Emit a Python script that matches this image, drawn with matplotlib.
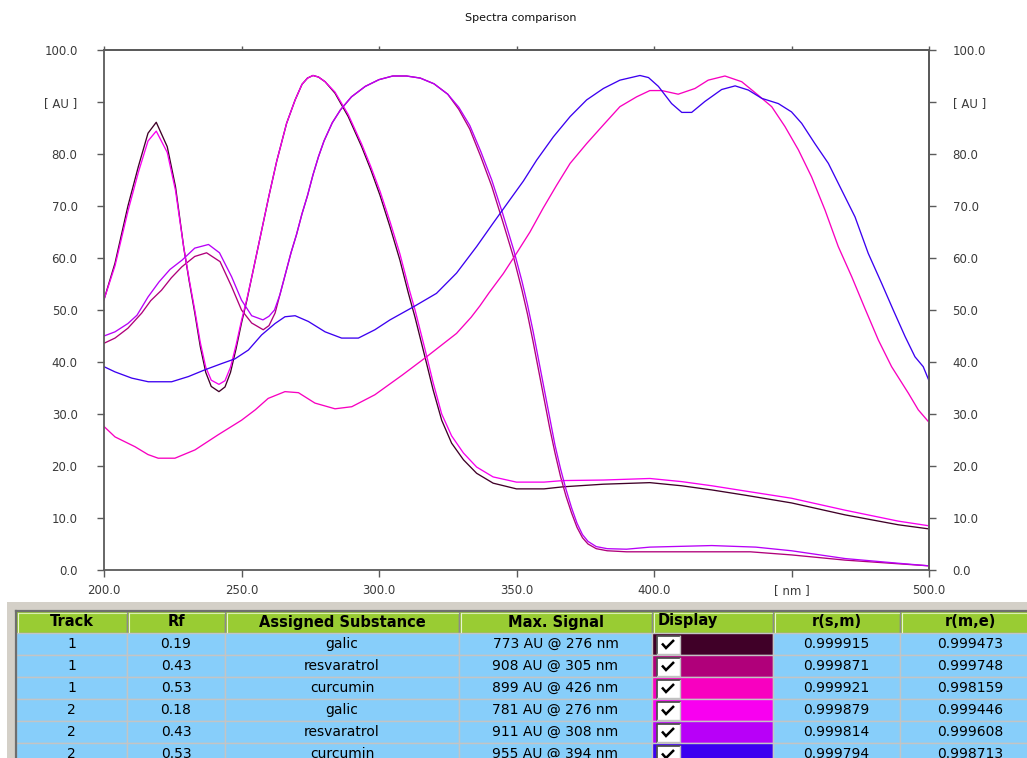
import matplotlib
matplotlib.use("Agg")
import matplotlib.pyplot as plt
from matplotlib.patches import Rectangle

# ---------------------------------------------------------------- spectra
# wavelength [nm] and normalised signal [AU] for each track / substance
galic_t1_nm = [200, 204, 208.7, 212.5, 216, 219, 223, 226, 229, 231,
               233, 235, 237, 239, 241.8, 244, 246, 248, 250, 252,
               254, 256, 258, 260, 262.8, 266.4, 269.5, 272, 274, 276,
               278, 280.4, 284, 288.8, 293.7, 297, 300.4, 304, 307.6, 310.7,
               313.1, 316.7, 319.7, 322.8, 326.4, 330.7, 335.5, 341.5, 350, 360,
               367, 381.6, 398.5, 410, 421, 433, 450, 469.5, 488.8, 500]
galic_t1_au = [52, 59, 70, 77.6, 84, 86.1, 81.4, 73.7, 62, 55.5,
               49.5, 43, 38, 35.3, 34.3, 35.2, 38, 42.5, 47.5, 52,
               57, 62, 67, 72, 78.6, 85.9, 90.4, 93.4, 94.6, 95.1,
               94.8, 93.9, 91.7, 87.2, 81.4, 77, 72, 66, 59.6, 53.2,
               48.6, 41, 34.6, 28.8, 24.4, 21.2, 18.6, 16.7, 15.6, 15.6,
               16, 16.5, 16.8, 16.2, 15.4, 14.4, 12.9, 10.6, 8.7, 7.9]

galic_t2_nm = galic_t1_nm
galic_t2_au = [52, 58.5, 69, 76.5, 82.5, 84.4, 80.3, 73, 62, 55.8,
               50, 43.8, 39, 36.5, 35.7, 36.4, 39, 43.2, 48, 52.2,
               57, 62, 67, 72, 78.6, 85.9, 90.4, 93.4, 94.6, 95.1,
               94.8, 93.9, 91.9, 87.6, 81.9, 77.6, 72.8, 67, 60.8, 54.5,
               50, 42.5, 36, 30, 25.8, 22.5, 19.8, 17.9, 16.9, 16.9,
               17.2, 17.3, 17.6, 17, 16.2, 15.2, 13.8, 11.5, 9.4, 8.5]

resv_t1_nm = [200, 204, 208.7, 213.7, 217, 220.9, 224.5, 228.3, 233, 237.3,
              242.2, 246.4, 250, 253.7, 257.9, 260, 262.2, 264, 266, 268,
              270, 272, 274, 276, 278, 280, 283, 286, 290, 295,
              300, 305, 310, 315, 320, 325, 329, 333, 337, 341,
              345, 349, 352, 354, 356, 358, 360, 362, 364, 366,
              368, 370, 372, 374, 376, 379, 383, 390, 398.5, 435,
              450, 469.5, 488.8, 500]
resv_t1_au = [43.6, 44.6, 46.5, 49.4, 51.8, 53.8, 56.2, 58.3, 60.3, 61,
              59.3, 54.5, 50, 47.5, 46.2, 47, 49.4, 53, 57, 61,
              64.5, 68.5, 72, 76, 79.5, 82.5, 86, 88.5, 91, 93,
              94.3, 95, 95, 94.6, 93.5, 91.5, 88.6, 84.8, 79.5, 73.8,
              67, 60, 53.8, 49.2, 44, 38.5, 33, 27.5, 22.5, 18,
              14.2, 11, 8.2, 6.2, 5, 4.1, 3.7, 3.5, 3.5, 3.5,
              2.9, 1.9, 1.2, 0.8]

resv_t2_nm = [200, 204, 208.7, 212, 216, 220, 224, 228.4, 233, 238,
              242, 246.4, 250, 253.7, 257.8, 260, 262, 264, 266, 268,
              270, 272, 274, 276, 278, 280, 283, 286, 290, 295,
              300, 305, 310, 315, 320, 325, 329, 333, 337, 341,
              345, 349, 352, 354, 356, 358, 360, 362, 364, 366,
              368, 370, 372, 374, 376, 379, 383, 390, 398.5, 421,
              437, 450, 469.5, 488.8, 500]
resv_t2_au = [45, 45.8, 47.4, 49, 52.5, 55.4, 57.8, 59.6, 61.9, 62.6,
              61, 56.4, 51.9, 48.9, 48.1, 48.8, 50, 53, 57, 61,
              64.5, 68.5, 72, 76, 79.5, 82.5, 86, 88.5, 91, 93,
              94.3, 95, 95, 94.6, 93.5, 91.5, 89, 85.5, 80.5, 75,
              68.5, 61.5, 55.5, 51, 46, 40.5, 35, 29.5, 24, 19.5,
              15.5, 12, 9, 6.8, 5.5, 4.5, 4.1, 4.0, 4.4, 4.7,
              4.4, 3.7, 2.2, 1.3, 0.8]

curc_t1_nm = [200, 204, 211.3, 216, 219.7, 225.8, 233.1, 241.5, 250, 255,
              259.7, 265.8, 270.7, 276.7, 284, 290.1, 298.5, 308.5, 317.3, 328.2,
              333.5, 336.7, 340, 345.2, 350, 354.9, 359.7, 364.6, 369.5, 375.5,
              381.6, 387.6, 393.7, 398.5, 402.8, 408.8, 414.9, 419.7, 425.8, 431.9,
              437.9, 442.8, 447.6, 452.5, 457.3, 462.2, 467, 471.9, 476.7, 481.6,
              486.4, 492.5, 496.1, 500]
curc_t1_au = [27.6, 25.6, 23.7, 22.2, 21.5, 21.5, 23.1, 26, 28.8, 30.8,
              33, 34.3, 34.1, 32.1, 31, 31.4, 33.7, 37.5, 41, 45.5,
              48.6, 50.8, 53.3, 57, 60.9, 65, 69.6, 74, 78.2, 82,
              85.6, 89.1, 91, 92.2, 92.2, 91.5, 92.6, 94.2, 95, 93.9,
              91.3, 89.1, 85.3, 80.8, 75.6, 69.2, 62.2, 56.4, 50.3, 44.2,
              39.1, 34, 30.8, 28.4]

curc_t2_nm = [200, 204, 210.1, 216.1, 224.6, 230.7, 236.7, 242.8, 247.6, 252.5,
              257.3, 262.2, 265.8, 269.5, 274.3, 280.4, 286.4, 292.5, 298.5, 304,
              312.5, 320.9, 328.2, 335.5, 341.5, 347.6, 352.5, 357.3, 363.4, 369.5,
              375.5, 381.6, 387.6, 394.9, 398, 401.6, 406.4, 410.1, 413.7, 418.5,
              424.6, 429.5, 434.3, 439.2, 445.2, 450, 453.7, 458.5, 463.4, 468.2,
              473.1, 477.9, 482.8, 487, 491.3, 494.9, 497.9, 500]
curc_t2_au = [39.1, 38.1, 36.9, 36.2, 36.2, 37.2, 38.5, 39.7, 40.6, 42.3,
              45.2, 47.4, 48.7, 48.9, 47.8, 45.8, 44.6, 44.6, 46.2, 48.1,
              50.6, 53.2, 57.1, 62.2, 66.7, 71.2, 74.8, 78.8, 83.3, 87.2,
              90.4, 92.6, 94.2, 95.1, 94.7, 93, 89.7, 88, 88, 90.1,
              92.4, 93.1, 92.3, 90.7, 89.7, 88.1, 85.9, 82, 78.2, 73.1,
              67.9, 60.9, 55.1, 50, 44.9, 41, 39.1, 36.4]

# ---------------------------------------------------------------- table
tracks = ["1", "1", "1", "2", "2", "2"]
rf_values = ["0.19", "0.43", "0.53", "0.18", "0.43", "0.53"]
substances = ["galic", "resvaratrol", "curcumin", "galic", "resvaratrol", "curcumin"]
max_signals = ["773 AU @ 276 nm", "908 AU @ 305 nm", "899 AU @ 426 nm",
               "781 AU @ 276 nm", "911 AU @ 308 nm", "955 AU @ 394 nm"]
r_sm = ["0.999915", "0.999871", "0.999921", "0.999879", "0.999814", "0.999794"]
r_me = ["0.999473", "0.999748", "0.998159", "0.999446", "0.999608", "0.998713"]
track_colors = ["#400028", "#b0007a", "#f800c0", "#f800f0", "#b800f8", "#3c00f0"]
headers = ["Track", "Rf", "Assigned Substance", "Max. Signal", "Display", "r(s,m)", "r(m,e)"]

x_ticks = [200, 250, 300, 350, 400, 450, 500]
x_labels = ["200.0", "250.0", "300.0", "350.0", "400.0", "[ nm ]", "500.0"]
y_ticks = [0, 10, 20, 30, 40, 50, 60, 70, 80, 90, 100]
y_labels = ["0.0", "10.0", "20.0", "30.0", "40.0", "50.0", "60.0", "70.0", "80.0", "[ AU ]", "100.0"]

# ---------------------------------------------------------------- figure
W, H = 1027, 758
plt.rcParams["font.family"] = ["DejaVu Sans"]
fig = plt.figure(figsize=(W / 100, H / 100), dpi=100)
fig.patch.set_facecolor("white")

ax = fig.add_axes([104 / W, 1 - 570 / H, 825 / W, 520 / H])
series = [
    (galic_t1_nm, galic_t1_au), (resv_t1_nm, resv_t1_au), (curc_t1_nm, curc_t1_au),
    (galic_t2_nm, galic_t2_au), (resv_t2_nm, resv_t2_au), (curc_t2_nm, curc_t2_au),
]
for (xs, ys), col in zip(series, track_colors):
    ax.plot(xs, ys, color=col, lw=0.95, solid_joinstyle="round")

spine_col = "#5a5a5a"
ax.set_xlim(200, 500)
ax.set_ylim(0, 100)
ax.set_xticks(x_ticks)
ax.set_xticklabels(x_labels)
ax.set_yticks(y_ticks)
ax.set_yticklabels(y_labels)
for sp in ax.spines.values():
    sp.set_color(spine_col)
    sp.set_linewidth(1.3)
ax.tick_params(axis="x", direction="out", length=5, width=1, color=spine_col,
               labelsize=8.5, labelcolor="#3a3a3a", pad=5)
ax.tick_params(axis="y", direction="out", length=5, width=1, color=spine_col,
               labelsize=8.5, labelcolor="#3a3a3a", pad=14)

# right-hand signal axis and top wavelength ticks
ax_r = ax.secondary_yaxis("right")
ax_r.set_yticks(y_ticks)
ax_r.set_yticklabels(y_labels)
ax_r.tick_params(direction="out", length=5, width=1, color=spine_col,
                 labelsize=8.5, labelcolor="#3a3a3a", pad=12)
ax_r.spines["right"].set_color(spine_col)
ax_r.spines["right"].set_linewidth(1.3)

ax_t = ax.secondary_xaxis("top")
ax_t.set_xticks(x_ticks)
ax_t.set_xticklabels([])
ax_t.tick_params(direction="out", length=3, width=1, color=spine_col)
ax_t.spines["top"].set_color(spine_col)
ax_t.spines["top"].set_linewidth(1.3)

fig.text(521 / W, 1 - 18 / H, "Spectra comparison", ha="center", va="center",
         fontsize=8, color="#111111")

# ---------------------------------------------------------------- results grid
tab = fig.add_axes([0, 0, 1, 1])
tab.set_xlim(0, W)
tab.set_ylim(H, 0)
tab.axis("off")

tab.add_patch(Rectangle((7, 602), W - 7, H - 602, fc="#d4d0c8", ec="none"))

col_edges = [16, 127, 225, 459, 652, 773, 900, 1040]
head_top, head_h, row_h = 611, 22, 22

for i, name in enumerate(headers):
    x0, x1 = col_edges[i], col_edges[i + 1]
    tab.add_patch(Rectangle((x0, head_top), x1 - x0, head_h, fc="#99cc33",
                            ec="#8a8a8a", lw=1.0))
    tab.plot([x0 + 1.5, x1 - 1], [head_top + 1.5, head_top + 1.5], color="#d8eeb0", lw=0.8)
    tab.plot([x0 + 1.5, x0 + 1.5], [head_top + 1.5, head_top + head_h - 1], color="#e8f4d0", lw=0.8)
    if name == "Display":
        tab.text(x0 + 6, head_top + head_h / 2 - 1, name, ha="left", va="center",
                 fontsize=10.5, fontweight="bold", color="black")
    else:
        tab.text((x0 + x1) / 2, head_top + head_h / 2, name, ha="center", va="center",
                 fontsize=10.5, fontweight="bold", color="black")

for r in range(len(tracks)):
    y0 = head_top + head_h + r * row_h
    cells = [tracks[r], rf_values[r], substances[r], max_signals[r], None, r_sm[r], r_me[r]]
    for i, txt in enumerate(cells):
        x0, x1 = col_edges[i], col_edges[i + 1]
        if txt is None:
            tab.add_patch(Rectangle((x0, y0), x1 - x0, row_h, fc=track_colors[r],
                                    ec="#c4c4c4", lw=1.0))
            bx, by, bw, bh = x0 + 5, y0 + 2.5, 23, 18
            tab.add_patch(Rectangle((bx, by), bw, bh, fc="white", ec="none"))
            tab.plot([bx, bx, bx + bw], [by + bh, by, by], color="#505050", lw=1.3)
            tab.plot([bx, bx + bw, bx + bw], [by + bh, by + bh, by], color="#c0c0c0", lw=1.0)
            cx, cy = bx + 5, by + 8
            tab.plot([cx, cx + 4, cx + 12], [cy, cy + 4.5, cy - 3.5], color="black",
                     lw=1.8, solid_capstyle="butt", solid_joinstyle="miter")
        else:
            tab.add_patch(Rectangle((x0, y0), x1 - x0, row_h, fc="#87cefa",
                                    ec="#c4c4c4", lw=1.0))
            tab.text((x0 + x1) / 2, y0 + row_h / 2, txt, ha="center", va="center",
                     fontsize=10, color="black")

# sunken frame of the grid
tab.plot([16, 16], [head_top, H], color="#6e6e6e", lw=1.6)
tab.plot([16, W], [head_top, head_top], color="#6e6e6e", lw=1.6)

fig.savefig("out.png", dpi=100, facecolor="white")
